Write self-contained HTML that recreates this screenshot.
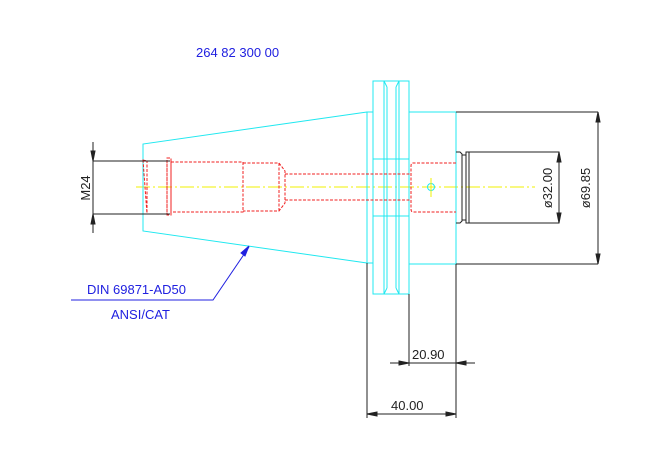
<!DOCTYPE html>
<html><head><meta charset="utf-8"><style>
html,body{margin:0;padding:0;background:#fff;width:670px;height:460px;overflow:hidden}
svg{display:block}
text{font-family:"Liberation Sans",sans-serif}
</style></head><body>
<svg width="670" height="460" viewBox="0 0 670 460" xmlns="http://www.w3.org/2000/svg">
<rect width="670" height="460" fill="#fff"/>
<text x="196" y="57" font-size="13" fill="#2020e0">264 82 300 00</text>

<line x1="136" y1="187" x2="535" y2="187" stroke="#f0f000" stroke-width="1" stroke-dasharray="14,3,2,3"/>

<g stroke="#20e8f0" stroke-width="1" fill="none">
<polyline points="367,112 143,144 143,231 367,263"/>
<rect x="367" y="112" width="6" height="151"/>
<rect x="373" y="81" width="36" height="213"/>
<line x1="384" y1="81" x2="384" y2="294"/><line x1="387" y1="87" x2="387" y2="288"/>
<line x1="396" y1="87" x2="396" y2="288"/><line x1="399" y1="81" x2="399" y2="294"/>
<line x1="384" y1="81" x2="387" y2="87"/><line x1="399" y1="81" x2="396" y2="87"/>
<line x1="384" y1="294" x2="387" y2="288"/><line x1="399" y1="294" x2="396" y2="288"/>
<line x1="373" y1="159" x2="409" y2="159"/><line x1="373" y1="216" x2="409" y2="216"/>
<rect x="409" y="112" width="47" height="152"/>
<circle cx="431" cy="187" r="3.5"/>
</g>
<line x1="431" y1="178" x2="431" y2="197" stroke="#f0f000"/>

<g stroke="#f02020" stroke-width="1" fill="none" stroke-dasharray="3,1.5">
<path d="M143,160 L147,161 H167 V214 H147 Z"/>
<rect x="147" y="161" width="20" height="53"/>
<rect x="167" y="158" width="4" height="57"/>
<rect x="171" y="162" width="72" height="50"/>
<path d="M243,163 H279 L285,171 V203 L279,211 H243"/>
<line x1="279" y1="163" x2="279" y2="211"/>
<line x1="285" y1="174" x2="411" y2="174"/><line x1="285" y1="200" x2="411" y2="200"/>
<path d="M456,163 H413 Q411,163 411,166 V209 Q411,212 413,212 H456"/>
</g>

<g stroke="#222" stroke-width="1" fill="none">
<path d="M456,152 H460 L462,154 V221 L460,223 H456"/>
<line x1="462" y1="155" x2="466" y2="155"/><line x1="462" y1="220" x2="466" y2="220"/>
<rect x="466" y="152" width="93" height="71"/>
<line x1="469" y1="152" x2="469" y2="223"/>
</g>

<g stroke="#222" stroke-width="1" fill="#222">
<line x1="93" y1="142" x2="93" y2="233"/>
<line x1="93" y1="161" x2="170" y2="161"/><line x1="93" y1="214" x2="170" y2="214"/>
<path d="M91,151 L95,151 L93,161 Z"/><path d="M91,224 L95,224 L93,214 Z"/>
<line x1="456" y1="112" x2="598" y2="112"/><line x1="456" y1="264" x2="598" y2="264"/>
<line x1="598" y1="112" x2="598" y2="264"/>
<path d="M596,122 L600,122 L598,112 Z"/><path d="M596,254 L600,254 L598,264 Z"/>
<line x1="559" y1="152" x2="559" y2="223"/>
<path d="M557,162 L561,162 L559,152 Z"/><path d="M557,213 L561,213 L559,223 Z"/>
<line x1="409" y1="294" x2="409" y2="366"/>
<line x1="456" y1="264" x2="456" y2="418"/>
<line x1="367" y1="263" x2="367" y2="418"/>
<line x1="390" y1="363" x2="475" y2="363"/>
<path d="M399,361 L399,365 L409,363 Z"/><path d="M466,361 L466,365 L456,363 Z"/>
<line x1="367" y1="414" x2="456" y2="414"/>
<path d="M377,412 L377,416 L367,414 Z"/><path d="M446,412 L446,416 L456,414 Z"/>
</g>
<g font-size="13" fill="#222">
<text transform="translate(90,188) rotate(-90)" text-anchor="middle">M24</text>
<text transform="translate(552,188) rotate(-90)" text-anchor="middle">ø32.00</text>
<text transform="translate(590,188) rotate(-90)" text-anchor="middle">ø69.85</text>
<text x="412" y="359">20.90</text>
<text x="391" y="410">40.00</text>
</g>

<g stroke="#2020e0" fill="#2020e0">
<polyline points="71,300 213,300 249,247" fill="none"/>
<path d="M249,246 L241,253 L245,256 Z"/>
</g>
<text x="87" y="294" font-size="13" fill="#2020e0">DIN 69871-AD50</text>
<text x="111" y="319" font-size="13" fill="#2020e0">ANSI/CAT</text>
</svg>
</body></html>
